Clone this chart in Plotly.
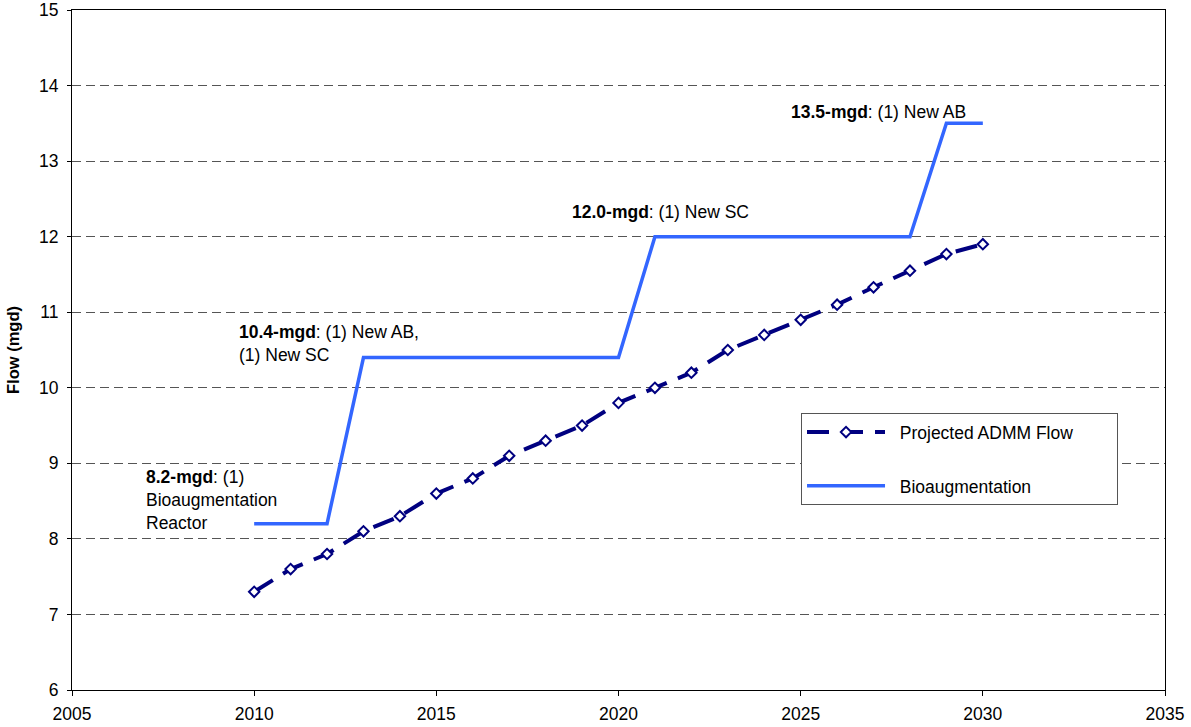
import plotly.graph_objects as go

years = list(range(2010, 2031))
projected_flow = [7.3, 7.6, 7.8, 8.1, 8.3, 8.6, 8.8, 9.1, 9.3, 9.5, 9.8,
                  10.0, 10.2, 10.5, 10.7, 10.9, 11.1, 11.33, 11.55, 11.77, 11.9]
bioaugmentation = [8.2, 8.2, 8.2, 10.4, 10.4, 10.4, 10.4, 10.4, 10.4, 10.4, 10.4,
                   12.0, 12.0, 12.0, 12.0, 12.0, 12.0, 12.0, 12.0, 13.5, 13.5]

ann_x = [2006.98, 2009.53, 2018.66, 2024.67]
ann_y = [8.515, 10.58, 12.33, 13.65]
ann_text = ["<b>8.2-mgd</b>: (1)<br>Bioaugmentation<br>Reactor",
            "<b>10.4-mgd</b>: (1) New AB,<br>(1) New SC",
            "<b>12.0-mgd</b>: (1) New SC",
            "<b>13.5-mgd</b>: (1) New AB"]

font = "Liberation Sans, Arial, sans-serif"
fs = 17.5
nb = "\u00a0"

fig = go.Figure()
fig.add_trace(go.Scatter(
    x=years, y=projected_flow, mode="lines+markers",
    name=nb * 2 + "Projected ADMM Flow" + nb * 8,
    line=dict(color="#000080", width=4, dash="22px,12px"),
    marker=dict(symbol="diamond", size=8, color="white",
                line=dict(color="#000080", width=2)),
    legendgroup="a"))
fig.add_trace(go.Scatter(
    x=years, y=bioaugmentation, mode="lines",
    name=nb * 2 + "Bioaugmentation",
    line=dict(color="#3366FF", width=3.5),
    legendgroup="b"))

for x, y, t in zip(ann_x, ann_y, ann_text):
    fig.add_annotation(x=x, y=y, text=t, showarrow=False, xanchor="left",
                       yanchor="middle", align="left",
                       font=dict(family=font, size=fs, color="black"))

fig.update_layout(
    width=1191, height=727,
    margin=dict(l=72, r=26, t=10, b=37),
    paper_bgcolor="white", plot_bgcolor="white",
    font=dict(family=font, size=fs, color="black"),
    showlegend=True,
    legend=dict(x=0.667, y=0.407, xanchor="left", yanchor="top",
                bordercolor="#555555", borderwidth=1, bgcolor="white",
                tracegroupgap=28, font=dict(family=font, size=fs),
                itemwidth=78),
    xaxis=dict(range=[2005, 2035], dtick=5, tick0=2005, showgrid=False,
               showline=True, linecolor="black", linewidth=1, mirror=True,
               ticks="outside", ticklen=5, tickcolor="black",
               ticklabelstandoff=3, automargin=False,
               tickfont=dict(family=font, size=fs)),
    yaxis=dict(range=[6, 15], dtick=1, showgrid=True, gridcolor="#555555",
               griddash="9px,5px", gridwidth=1, zeroline=False,
               showline=True, linecolor="black", linewidth=1, mirror=True,
               ticks="outside", ticklen=4, tickcolor="black",
               ticklabelstandoff=5, automargin=False,
               tickfont=dict(family=font, size=fs),
               title=dict(text="<b>Flow (mgd)</b>",
                          font=dict(family=font, size=16.5))),
)

fig.write_html("out.html", config={"displayModeBar": False},
               post_script="document.body.style.margin='0';")
